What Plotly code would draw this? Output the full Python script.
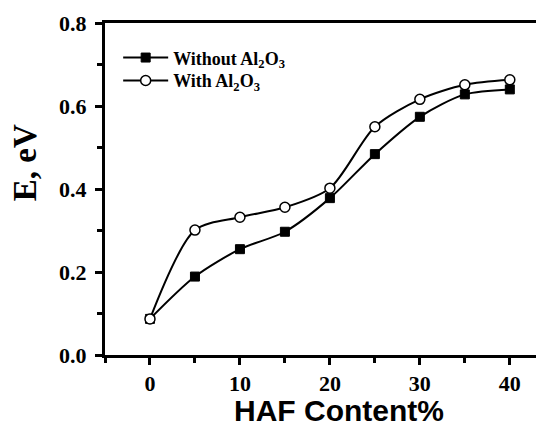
import plotly.graph_objects as go

haf = [0, 5, 10, 15, 20, 25, 30, 35, 40]
e_without = [0.087, 0.189, 0.255, 0.297, 0.378, 0.484, 0.574, 0.628, 0.640]
e_with = [0.087, 0.301, 0.332, 0.356, 0.402, 0.550, 0.616, 0.651, 0.663]
x_ticks = [0, 10, 20, 30, 40]
y_ticks = [0.0, 0.2, 0.4, 0.6, 0.8]
y_tick_labels = ["<b>0.0</b>", "<b>0.2</b>", "<b>0.4</b>", "<b>0.6</b>", "<b>0.8</b>"]
x_tick_labels = ["<b>0</b>", "<b>10</b>", "<b>20</b>", "<b>30</b>", "<b>40</b>"]

serif = "Liberation Serif, Times New Roman, serif"
sans = "Liberation Sans, Arial, sans-serif"

fig = go.Figure()
fig.add_trace(go.Scatter(
    x=haf, y=e_without, mode="lines+markers",
    name="<b>Without Al<sub>2</sub>O<sub>3</sub></b>", legend="legend",
    line=dict(color="black", width=2, shape="spline", smoothing=0.8),
    marker=dict(symbol="square", size=9, color="black", line=dict(color="black", width=1)),
))
fig.add_trace(go.Scatter(
    x=haf, y=e_with, mode="lines+markers",
    name="<b>With Al<sub>2</sub>O<sub>3</sub></b>", legend="legend2",
    line=dict(color="black", width=2, shape="spline", smoothing=0.8),
    marker=dict(symbol="circle", size=10, color="white", line=dict(color="black", width=1.5)),
))

leg_common = dict(
    xanchor="left", yanchor="middle",
    font=dict(family=serif, size=18, color="black"),
    bgcolor="rgba(0,0,0,0)", itemwidth=45,
)

fig.update_layout(
    width=536, height=421,
    margin=dict(l=97, r=0, t=15, b=74),
    paper_bgcolor="white", plot_bgcolor="white",
    showlegend=True,
    legend=dict(x=0.03, y=0.895, **leg_common),
    legend2=dict(x=0.03, y=0.826, **leg_common),
    xaxis=dict(
        range=[-5, 43.8], automargin=False,
        tickmode="array", tickvals=x_ticks, ticktext=x_tick_labels,
        ticks="outside", ticklen=7, tickwidth=2.5, tickcolor="black",
        minor=dict(tickvals=[-5, 5, 15, 25, 35], ticks="outside", ticklen=5, tickwidth=2.5, tickcolor="black"),
        showline=True, linecolor="black", linewidth=3, mirror=True,
        showgrid=False, zeroline=False,
        tickfont=dict(family=serif, size=22, color="black"),
    ),
    yaxis=dict(
        range=[0, 0.8], automargin=False,
        tickmode="array", tickvals=y_ticks, ticktext=y_tick_labels,
        ticks="outside", ticklen=7, tickwidth=2.5, tickcolor="black",
        ticklabelstandoff=4,
        minor=dict(tickvals=[0.1, 0.3, 0.5, 0.7], ticks="outside", ticklen=5, tickwidth=2.5, tickcolor="black"),
        showline=True, linecolor="black", linewidth=3,
        showgrid=False, zeroline=False,
        tickfont=dict(family=serif, size=22, color="black"),
    ),
    annotations=[
        dict(text="<b>HAF Content%</b>", xref="paper", yref="paper", x=0.533, y=0,
             xanchor="center", yanchor="middle", yshift=-55, showarrow=False,
             font=dict(family=sans, size=30, color="black")),
        dict(text="<b>E, eV</b>", xref="paper", yref="paper", x=-0.182, y=0.578,
             xanchor="center", yanchor="middle", textangle=-90, showarrow=False,
             font=dict(family=serif, size=33, color="black")),
    ],
)

fig.write_html("out.html")
